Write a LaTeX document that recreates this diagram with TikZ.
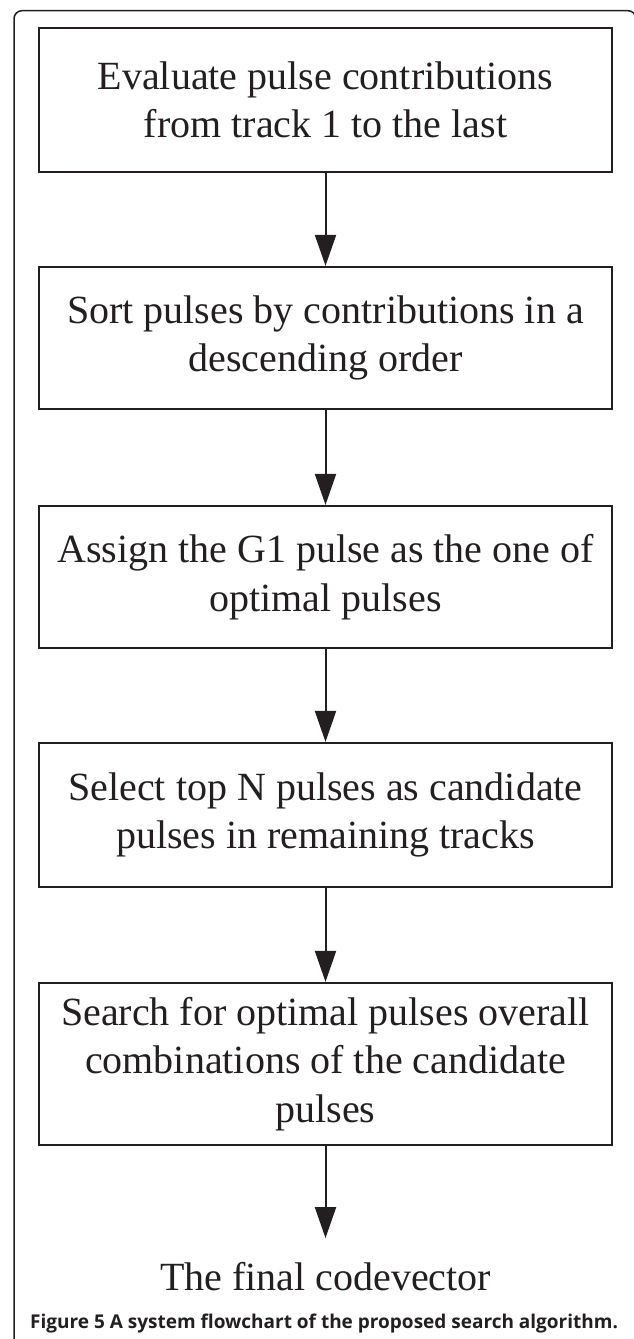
\documentclass[tikz,border=0pt]{standalone}
\usepackage{fontspec}
\setmainfont{Liberation Serif}
\newfontfamily\capfont{Open Sans}
\usetikzlibrary{arrows.meta}
\definecolor{ink}{HTML}{231F20}
\begin{document}
\begin{tikzpicture}[x=1pt,y=-1pt,
  stepbox/.style={draw=ink, line width=2.2pt, minimum width=573pt, inner sep=0pt,
    align=center, font=\fontsize{40}{48.5}\selectfont, text=ink},
  flow/.style={draw=ink, line width=2pt, -{Triangle[length=31pt,width=21pt]}},
  frame/.style={draw=ink, line width=1.5pt, rounded corners=8pt},
  endtext/.style={inner sep=0pt, font=\fontsize{40}{48.5}\selectfont, text=ink},
  captext/.style={inner sep=0pt, font=\capfont\bfseries\fontsize{19}{22}\selectfont, text=ink}
]
\useasboundingbox (0,0) rectangle (633,1339);
\draw[frame] (14,1345) -- (14,10.7) -- (636,10.7) -- (636,1345);

\node[stepbox, minimum height=144pt] (b1) at (325.5,100)
  {Evaluate pulse contributions\\from track 1 to the last};
\node[stepbox, minimum height=142pt] (b2) at (325.5,338)
  {Sort pulses by contributions in a\\descending order};
\node[stepbox, minimum height=142pt] (b3) at (325.5,577)
  {Assign the G1 pulse as the one of\\optimal pulses};
\node[stepbox, minimum height=144pt] (b4) at (325.5,815)
  {Select top N pulses as candidate\\pulses in remaining tracks};
\node[stepbox, minimum height=162pt] (b5) at (325.5,1064)
  {Search for optimal pulses overall\\combinations of the candidate\\pulses};
\node[endtext, anchor=base] (fin) at (325.5,1290) {The final codevector};
\node[captext, anchor=base west] (cap) at (30,1328)
  {Figure 5 A system flowchart of the proposed search algorithm.};

\draw[flow] (b1) -- (b2);
\draw[flow] (b2) -- (b3);
\draw[flow] (b3) -- (b4);
\draw[flow] (b4) -- (b5);
\draw[flow, shorten >=23.5pt] (b5) -- (fin);
\end{tikzpicture}
\end{document}
